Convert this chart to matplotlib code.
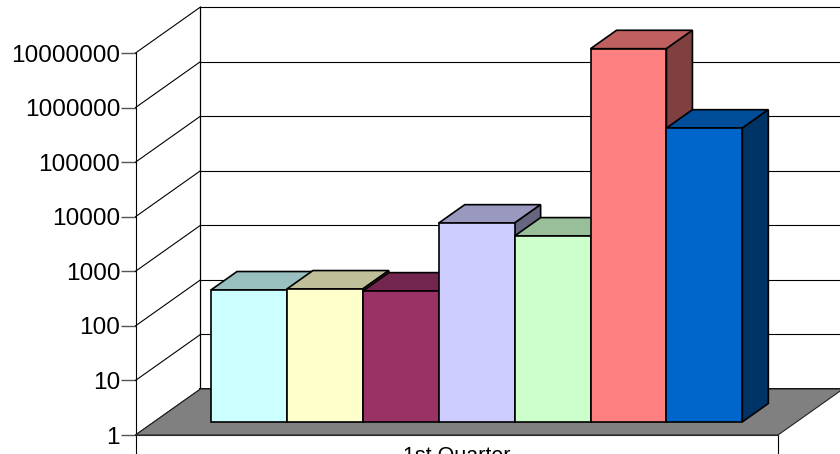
"""
Excel style 3D bar chart on a log axis, drawn on a normal 2D axes
"""
import matplotlib.pyplot as plt
from matplotlib.patches import Polygon
from matplotlib.transforms import Affine2D
from matplotlib.colors import to_rgb

categories = ['1st Quarter']
values = [262, 273, 250, 4400, 2550, 6900000, 242000]
colors = ['#CCFFFF', '#FFFFCC', '#993366', '#CCCCFF', '#CCFFCC', '#FF8080', '#0066CC']
yticks = [1, 10, 100, 1000, 10000, 100000, 1000000, 10000000]

W = 840
H = 454
# depth of the floor in pixels
depth_x = 65
depth_y = 46

plt.rcParams['font.family'] = ['Liberation Sans', 'DejaVu Sans']

fig = plt.figure(figsize=(W/100, H/100), dpi=100)
ax = fig.add_axes([135.5/W, (H-435)/H, 642.5/W, 382/H])
ax.set_yscale('log')
ax.set_xlim(-0.751, 7.714)
ax.set_ylim(1, 10000000)
ax.patch.set_alpha(0)
ax.spines['top'].set_visible(False)
ax.spines['right'].set_visible(False)
ax.spines['left'].set_linewidth(0.8)
ax.spines['bottom'].set_linewidth(0.8)
ax.spines['bottom'].set_color('#333333')

x0, x1 = ax.get_xlim()

ax.set_yticks(yticks)
ax.set_yticklabels([str(t) for t in yticks], fontsize=17.6)
ax.minorticks_off()
ax.tick_params(axis='y', length=11, width=1, color='#555555', pad=0)
ax.set_xticks([x0, x1])
ax.set_xticklabels(['', ''])
ax.tick_params(axis='x', length=20, width=0.8)
ax.set_xticks([(x0 + x1)/2], labels=categories, minor=True)
ax.tick_params(axis='x', which='minor', length=0, pad=8, labelsize=15.5)


def px(x, v, d=0.0):
    # data point -> pixel, d is the fraction of the way to the back wall
    p = ax.transData.transform((x, v))
    return (p[0] + d*depth_x, p[1] + d*depth_y)


def face(pts, fc, lw=1.2, ec='black', z=1):
    fig.add_artist(Polygon(pts, closed=True, facecolor=fc, edgecolor=ec, linewidth=lw,
                           joinstyle='miter', transform=None, zorder=z))


def shade(c, f):
    return tuple(f*a for a in to_rgb(c))


# floor
face([px(x0, 1), px(x1, 1), px(x1, 1, 1), px(x0, 1, 1)], '#808080', lw=0.8, ec='#222222', z=1)

# back wall and grid
back = Affine2D().translate(depth_x, depth_y)
for t in yticks:
    ax.plot([x0, x1], [t, t], color='black', lw=0.8, transform=ax.transData + back,
            clip_on=False, zorder=0.5)
    a = px(x0, t)
    b = px(x0, t, 1)
    fig.add_artist(plt.Line2D([a[0], b[0]], [a[1], b[1]], color='black', lw=0.8,
                              transform=None, zorder=0.5))
ax.plot([x0, x0], [1, 10000000], color='black', lw=0.9, transform=ax.transData + back,
        clip_on=False, zorder=0.5)
ax.plot([x0, x1], [1, 1], color='black', lw=1.4, transform=ax.transData + back,
        clip_on=False, zorder=0.6)

# bars, left to right so later ones paint over earlier sides
d0 = 0.285
d1 = 0.685
for i in range(len(values)):
    v = values[i]
    c = colors[i]
    z = 2 + i*0.1
    face([px(i, v, d0), px(i+1, v, d0), px(i+1, v, d1), px(i, v, d1)], shade(c, 0.75), z=z)
    face([px(i+1, 1, d0), px(i+1, v, d0), px(i+1, v, d1), px(i+1, 1, d1)], shade(c, 0.5), z=z)
    face([px(i, 1, d0), px(i+1, 1, d0), px(i+1, v, d0), px(i, v, d0)], c, z=z)

fig.savefig('out.png', dpi=100)
